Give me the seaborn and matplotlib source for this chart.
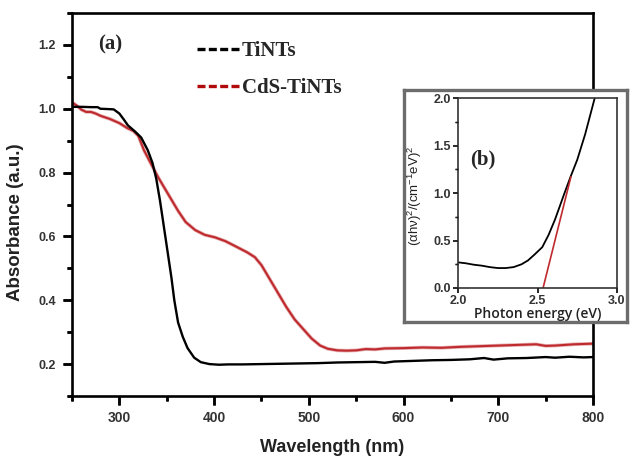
import matplotlib
matplotlib.use("Agg")
import matplotlib.pyplot as plt
from matplotlib.lines import Line2D
import numpy as np
import seaborn as sns

# UV-vis absorbance spectra
wl_tints = [250, 260, 270, 277, 280, 288, 294, 300, 305, 309, 316, 323, 330, 335, 339,
            343, 347, 351, 355, 358, 362, 367, 372, 379, 386, 395, 405, 415, 430, 450,
            470, 490, 510, 530, 550, 570, 580, 590, 610, 630, 650, 670, 685, 695, 710,
            730, 750, 760, 775, 790, 800]
abs_tints = [1.006, 1.006, 1.005, 1.005, 1.0, 0.999, 0.998, 0.985, 0.965, 0.948, 0.93, 0.91,
             0.87, 0.83, 0.78, 0.71, 0.63, 0.55, 0.47, 0.40, 0.33, 0.285, 0.25, 0.22, 0.206,
             0.200, 0.198, 0.199, 0.199, 0.200, 0.201, 0.202, 0.203, 0.205, 0.206, 0.207,
             0.204, 0.208, 0.210, 0.212, 0.213, 0.215, 0.219, 0.214, 0.218, 0.219, 0.222,
             0.220, 0.223, 0.221, 0.222]

wl_cds = [250, 255, 260, 265, 270, 275, 280, 290, 300, 308, 315, 320, 326, 333, 341,
          350, 362, 370, 380, 390, 401, 412, 422, 435, 443, 450, 458, 467, 476, 485,
          494, 503, 512, 520, 530, 540, 550, 560, 570, 580, 600, 620, 640, 660, 680,
          700, 720, 740, 750, 760, 780, 800]
abs_cds = [1.02, 1.01, 0.997, 0.99, 0.99, 0.985, 0.978, 0.968, 0.955, 0.94, 0.93, 0.915,
           0.87, 0.83, 0.785, 0.74, 0.68, 0.645, 0.62, 0.605, 0.597, 0.585, 0.57, 0.55,
           0.535, 0.51, 0.47, 0.425, 0.38, 0.34, 0.31, 0.28, 0.258, 0.248, 0.243, 0.242,
           0.243, 0.247, 0.246, 0.249, 0.25, 0.252, 0.251, 0.254, 0.256, 0.258, 0.26,
           0.262, 0.257, 0.258, 0.262, 0.264]

# Tauc plot of the CdS-TiNTs sample and its linear extrapolation
energy_ev = [2.0, 2.05, 2.1, 2.15, 2.2, 2.25, 2.3, 2.35, 2.4, 2.44, 2.48, 2.53, 2.57,
             2.61, 2.64, 2.67, 2.71, 2.75, 2.8, 2.86]
tauc_y = [0.27, 0.26, 0.245, 0.235, 0.22, 0.21, 0.21, 0.22, 0.25, 0.29, 0.35, 0.43,
          0.56, 0.72, 0.86, 1.0, 1.18, 1.35, 1.62, 2.0]
fit_energy = [2.535, 2.71]
fit_y = [0.0, 1.17]

series_labels = ["TiNTs", "CdS-TiNTs"]
x_ticks = [300, 400, 500, 600, 700, 800]
y_ticks = [0.2, 0.4, 0.6, 0.8, 1.0, 1.2]
inset_x_ticks = [2.0, 2.5, 3.0]
inset_y_ticks = [0.0, 0.5, 1.0, 1.5, 2.0]

RED = "#bf2a2e"
LEG_RED = "#b00a0a"
TICK_TXT = "#333333"

sns.set_theme(style="ticks")
plt.rcParams["font.family"] = ["Liberation Sans", "DejaVu Sans"]
plt.rcParams["mathtext.default"] = "regular"

W, H = 630, 457
fig = plt.figure(figsize=(W / 100, H / 100), dpi=100)


def fig_rect(x0, y0, x1, y1):
    return [x0 / W, 1 - y1 / H, (x1 - x0) / W, (y1 - y0) / H]


# ---- main spectra ----
ax = fig.add_axes(fig_rect(72, 13, 593, 396))
sns.lineplot(x=wl_cds, y=abs_cds, ax=ax, color="#e7b0b2", lw=2.6, sort=False)
sns.lineplot(x=wl_cds, y=abs_cds, ax=ax, color=RED, lw=1.5, sort=False)
sns.lineplot(x=wl_tints, y=abs_tints, ax=ax, color="black", lw=1.7, sort=False)

ax.set_xlim(250, 800)
ax.set_ylim(0.1, 1.3)
ax.set_xticks(x_ticks)
ax.set_yticks(y_ticks)
ax.set_xticklabels([str(t) for t in x_ticks])
ax.set_yticklabels([f"{t:.1f}" for t in y_ticks])
minor_x = np.arange(250, 801, 100)
minor_y = np.round(np.arange(0.1, 1.31, 0.2), 2)
ax.set_xticks(minor_x, minor=True)
ax.set_yticks(minor_y, minor=True)
ax.tick_params(which="both", bottom=True, left=True, top=False, right=False,
               direction="out", color="black", labelcolor=TICK_TXT)
ax.tick_params(which="major", length=6.5, width=1.8)
ax.tick_params(which="minor", length=3.6, width=1.8)
ax.tick_params(axis="x", which="major", pad=4.5, labelsize=10)
ax.tick_params(axis="y", which="major", pad=5, labelsize=9)
for lab in ax.get_xticklabels() + ax.get_yticklabels():
    lab.set_fontweight("bold")
for sp in ax.spines.values():
    sp.set_visible(True)
    sp.set_linewidth(1.9)
    sp.set_color("black")

ax.set_xlabel("Wavelength (nm)", fontsize=13, fontweight="bold", color="#222222")
ax.set_ylabel("Absorbance (a.u.)", fontsize=13.5, fontweight="bold", color="#222222")
ax.xaxis.set_label_coords(0.5, -0.112)
ax.yaxis.set_label_coords(-0.092, 0.454)

ax.text(277.5, 1.2, "(a)", fontsize=15, fontweight="bold", family="Liberation Serif",
        ha="left", va="center")

handles = [Line2D([], [], color="black", lw=2.4, ls=(0, (2.4, 1.0))),
           Line2D([], [], color=LEG_RED, lw=2.4, ls=(0, (2.4, 1.0)))]
ax.legend(handles, series_labels, loc="upper left",
          bbox_to_anchor=((197 - 72) / 521, 1 - (41 - 13) / 383),
          frameon=False, borderpad=0, borderaxespad=0,
          handlelength=2.05, handletextpad=0.1, labelspacing=0.82,
          prop={"family": "Liberation Serif", "weight": "bold", "size": 15})

# ---- framed inset panel ----
frame = fig.add_axes(fig_rect(404, 90, 627, 322))
frame.set_xticks([])
frame.set_yticks([])
frame.set_facecolor("white")
for sp in frame.spines.values():
    sp.set_linewidth(2.4)
    sp.set_color("#6c6c6c")

ax_in = fig.add_axes(fig_rect(458, 98, 617, 288))
sns.lineplot(x=energy_ev, y=tauc_y, ax=ax_in, color="black", lw=1.3, sort=False)
sns.lineplot(x=fit_energy, y=fit_y, ax=ax_in, color=RED, lw=1.2, sort=False)
ax_in.set_xlim(2.0, 3.0)
ax_in.set_ylim(0.0, 2.0)
ax_in.set_xticks(inset_x_ticks)
ax_in.set_yticks(inset_y_ticks)
ax_in.set_xticklabels([f"{t:.1f}" for t in inset_x_ticks])
ax_in.set_yticklabels([f"{t:.1f}" for t in inset_y_ticks])
inset_minor_y = [0.25, 0.75, 1.25, 1.75]
ax_in.set_yticks(inset_minor_y, minor=True)
ax_in.tick_params(which="both", bottom=True, left=True, top=False, right=False,
                  direction="out", color="#222222")
ax_in.tick_params(which="major", length=3.6, width=1.1, labelsize=9,
                  labelcolor=TICK_TXT, pad=1.5)
ax_in.tick_params(which="minor", length=2.2, width=1.0)
for lab in ax_in.get_xticklabels() + ax_in.get_yticklabels():
    lab.set_fontweight("bold")
for sp in ax_in.spines.values():
    sp.set_visible(True)
    sp.set_linewidth(1.2)
    sp.set_color("#333333")

ax_in.set_xlabel("Photon energy (eV)", fontsize=10, fontweight="semibold",
                 family=["Open Sans", "DejaVu Sans"], color="#222222")
ax_in.set_ylabel(r"$(\alpha h\nu)^2/(cm^{-1}eV)^2$", fontsize=9.5, color="#222222")
ax_in.xaxis.set_label_coords(0.5, -0.1)
ax_in.yaxis.set_label_coords(-0.215, 0.484)

ax_in.text(2.075, 1.35, "(b)", fontsize=15, fontweight="bold", family="Liberation Serif",
           ha="left", va="center")

# ---- tick strokes on a transparent full-figure layer (pixel units) ----
overlay = fig.add_axes([0, 0, 1, 1], zorder=10)
overlay.set_xlim(0, W)
overlay.set_ylim(0, H)
overlay.patch.set_alpha(0)
overlay.axis("off")


def overlay_ticks(axis_obj, xs, ys, length_px, lw, color):
    x0, x1 = axis_obj.get_xlim()
    y0, y1 = axis_obj.get_ylim()
    for v in xs:
        px, py = axis_obj.transData.transform((v, y0))
        overlay.plot([px, px], [py, py - length_px], color=color, lw=lw,
                     solid_capstyle="butt", clip_on=False)
    for v in ys:
        px, py = axis_obj.transData.transform((x0, v))
        overlay.plot([px, px - length_px], [py, py], color=color, lw=lw,
                     solid_capstyle="butt", clip_on=False)


overlay_ticks(ax, x_ticks, y_ticks, 9, 1.8, "black")
overlay_ticks(ax, minor_x, minor_y, 5, 1.8, "black")
overlay_ticks(ax_in, inset_x_ticks, inset_y_ticks, 5, 1.1, "#222222")
overlay_ticks(ax_in, [], inset_minor_y, 3, 1.0, "#222222")

fig.savefig("out.png", dpi=100)
